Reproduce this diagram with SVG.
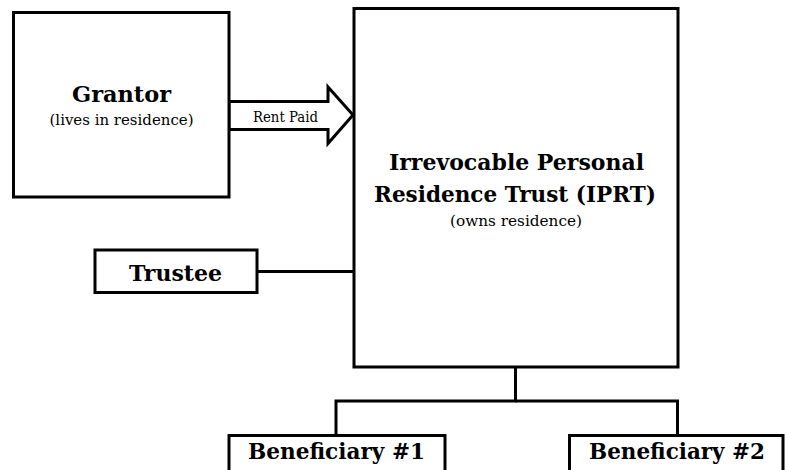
<svg xmlns="http://www.w3.org/2000/svg" width="785" height="470" viewBox="0 0 785 470">
  <style>
    .box { fill: #ffffff; stroke: #000000; stroke-width: 3; }
    .link { fill: none; stroke: #000000; stroke-width: 3; }
    .title { font-family: "DejaVu Serif", "Liberation Serif", serif; font-weight: bold; font-size: 23px; fill: #000000; text-anchor: middle; }
    .note { font-family: "DejaVu Serif", "Liberation Serif", serif; font-size: 14px; fill: #000000; text-anchor: middle; }
  </style>
  <rect width="785" height="470" fill="#ffffff"/>

  <g id="connectors">
    <polygon class="box" points="229,101.5 328,101.5 328,87 353,115 328,143.5 328,129.5 229,129.5"/>
    <text class="note" x="285.5" y="122" font-size="13" textLength="65" lengthAdjust="spacingAndGlyphs">Rent Paid</text>
    <line class="link" x1="257" y1="271.5" x2="354" y2="271.5"/>
    <polyline class="link" points="515.5,367 515.5,401 336,401 336,436"/>
    <polyline class="link" points="515.5,401 677.5,401 677.5,436"/>
  </g>

  <g id="grantor">
    <rect class="box" x="13.5" y="12.5" width="215.5" height="184.5"/>
    <text class="title" x="121.5" y="102" textLength="99" lengthAdjust="spacingAndGlyphs">Grantor</text>
    <text class="note" x="121.5" y="125" font-size="15" textLength="144" lengthAdjust="spacingAndGlyphs">(lives in residence)</text>
  </g>

  <g id="iprt">
    <rect class="box" x="354" y="8.5" width="324" height="358.5"/>
    <text class="title" x="516.5" y="170" textLength="255" lengthAdjust="spacingAndGlyphs">Irrevocable Personal</text>
    <text class="title" x="515" y="202" textLength="282" lengthAdjust="spacingAndGlyphs">Residence Trust (IPRT)</text>
    <text class="note" x="516" y="226" font-size="13" textLength="132" lengthAdjust="spacingAndGlyphs">(owns residence)</text>
  </g>

  <g id="trustee">
    <rect class="box" x="95" y="250" width="162" height="42.5"/>
    <text class="title" x="175.5" y="281" textLength="93" lengthAdjust="spacingAndGlyphs">Trustee</text>
  </g>

  <g id="beneficiary-1">
    <rect class="box" x="229" y="435.5" width="216" height="45"/>
    <text class="title" x="336.5" y="459" textLength="177" lengthAdjust="spacingAndGlyphs">Beneficiary #1</text>
  </g>

  <g id="beneficiary-2">
    <rect class="box" x="569.5" y="435.5" width="213.5" height="45"/>
    <text class="title" x="677" y="459" textLength="176" lengthAdjust="spacingAndGlyphs">Beneficiary #2</text>
  </g>
</svg>
